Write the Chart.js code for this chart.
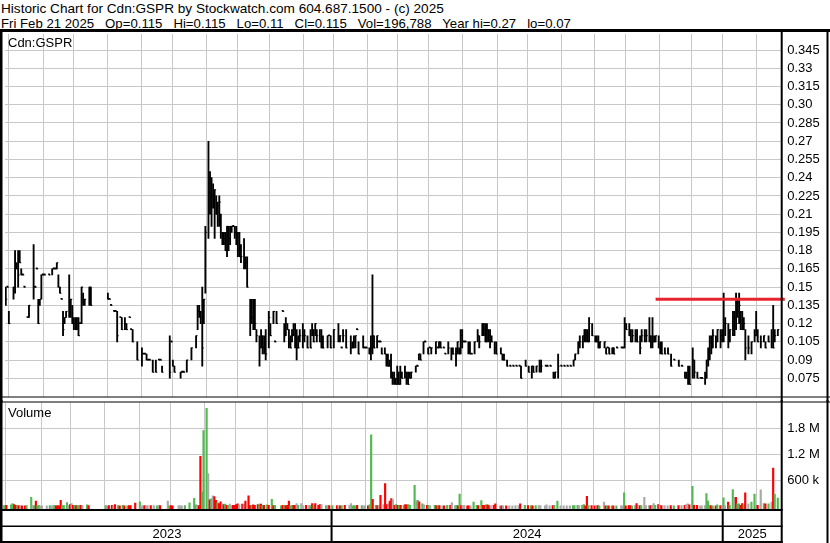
<!DOCTYPE html>
<html>
<head>
<meta charset="utf-8">
<script src="https://cdn.jsdelivr.net/npm/chart.js@4.4.1/dist/chart.umd.min.js"></script>
<style>
  html, body { margin: 0; padding: 0; background: #fff; }
  #wrap { position: relative; width: 830px; height: 543px; overflow: hidden;
          font-family: "Liberation Sans", Arial, sans-serif; font-size: 13px; color: #000; }
  .txt { position: absolute; white-space: pre; line-height: 13px; }
  canvas { position: absolute; left: 0; }
</style>
</head>
<body>
<div id="wrap">
  <div class="txt" style="left:1px;top:2px;font-size:13.6px">Historic Chart for Cdn:GSPR by Stockwatch.com 604.687.1500 - (c) 2025</div>
  <div class="txt" style="left:1px;top:17px;font-size:13.2px">Fri Feb 21 2025   Op=0.115   Hi=0.115   Lo=0.11   Cl=0.115   Vol=196,788   Year hi=0.27   lo=0.07</div>
  <canvas id="price" width="830" height="373" style="top:29px"></canvas>
  <canvas id="volume" width="830" height="143" style="top:400px"></canvas>
  <div class="txt" style="left:8px;top:36px">Cdn:GSPR</div>
  <div class="txt" style="left:8px;top:406px">Volume</div>
</div>
<script>
const _ = null;

// trading days in each month shown, Feb 27 2023 .. Feb 21 2025
const monthDays  = [2, 23, 19, 22, 22, 20, 22, 20, 21, 22, 19,
                    22, 20, 20, 22, 22, 20, 22, 21, 20, 22, 21, 20,
                    22, 14];
const monthYears = [2023, 2023, 2023, 2023, 2023, 2023, 2023, 2023, 2023, 2023, 2023,
                    2024, 2024, 2024, 2024, 2024, 2024, 2024, 2024, 2024, 2024, 2024, 2024,
                    2025, 2025];
const years = [2023, 2024, 2025];

// price ticks in cents, volume ticks in thousands
const priceTicks = [7.5, 9, 10.5, 12, 13.5, 15, 16.5, 18, 19.5, 21, 22.5, 24, 25.5, 27, 28.5, 30, 31.5, 33, 34.5];
const volumeTicks = [600, 1200, 1800];

// resistance line drawn on the chart (cents), from bar index
const resistance = { level: 14, fromBar: 420, toBar: 503.5 };

// daily high / low / close in cents, one entry per trading day (null = no trades)
const hi = [
  15, 15, 13, _, _, 15, 18, 17, 18, 18,
  16.5, 16, 15, _, 12.5, 13.5, _, _, 18.5, 15,
  16.5, 14, 14, 16, 16, 16, _, _, 16, _,
  16.5, 16.5, 16.5, 17, 16, 15, 14, 13, 12.5, 13,
  _, 16, 14, 13.5, 12.5, 12.5, 12.5, 12.5, 12, 15,
  14.5, 14, _, _, 15, 15, _, _, _, _,
  _, _, _, _, _, _, 14.5, 14, 13.5, _,
  13, 13, 13, _, 12.5, 12.5, _, 12.5, 12, _,
  12.5, 11.5, 11.5, _, _, 10.5, _, _, 10, 9.5,
  9.5, 9.5, 9, 9, _, 9, _, 9, _, 9,
  9, 8.5, _, _, _, _, 11, 10.5, 9, 8.5,
  _, _, _, 8, 8, 8, _, 9, _, _,
  10, _, _, 11, 13.5, 13.5, 13, 15, 14, 20,
  _, 27, 24.5, 24, 23.5, 23, 22.5, 22, 22.5, 21,
  19.5, 19.5, 19.5, 20, 20, 20, 20, 20, 20, 20,
  19.5, 19.5, 18.5, _, 19, 17.5, 17.5, _, 14, 14,
  14, 14, 11.5, _, 11, 11.5, 11, 11, 11.5, _,
  13, 12, _, 13, 10.5, 13, _, _, _, 13,
  12, 12.5, 12, 11.5, 11, 11.5, 12, 12, 11.5, 11,
  11.5, _, 12, 11.5, _, 11, _, 11.5, 12, 11.5,
  12, 11.5, _, 11.5, 11.5, 11, _, _, 11, 11,
  11, _, 11.5, _, _, 12, 11, 10, 11.5, _,
  11.5, _, _, 11, 10.5, 11, 11, 11.5, 10.5, _,
  _, 11, 10, 10, _, 10, 11, 16, 11, _,
  11, 10.5, 10.5, 10, _, 10, 9.5, 9.5, 9, 9.5,
  8, 8, 7.5, 8.5, 8, 8.5, 8, _, 8.5, 8,
  8, 8, 8, _, _, 8.5, 8.5, 9.5, 9.5, _,
  10.5, 10.5, _, 10, 10, 10, _, _, 10.5, 10,
  10.5, 10.5, _, 10, 9.5, _, 10.5, _, 10, 10,
  _, 10, 10.5, 10, 11.5, 11.5, 10.5, 10.5, _, 10.5,
  10.5, 9.5, _, 10.5, _, 11.5, 11, _, 12, 12,
  12, 12, 11.5, 11.5, 11, _, 10.5, 10.5, _, _,
  10, 9.5, 9.5, _, 9, _, 8.5, _, 8.5, _,
  8.5, _, 8.5, 8.5, _, _, 9, _, 8.5, _,
  8.5, 8.5, _, 8.5, _, 9, 9, _, _, 8.5,
  8.5, _, 8.5, _, 8, 8, _, 9.5, _, 8.5,
  _, 8.5, _, 8.5, _, 8.5, _, 9, 9.5, _,
  10.5, 11, _, 11, 11.5, 11.5, 11.5, 12.5, _, 12,
  _, 11, 11, 11, 10.5, _, _, 10.5, 10, 10,
  10, _, 10, 10, _, 10, _, _, 10, 10,
  12.5, 12, _, 12, 11.5, 11.5, _, 11.5, 11.5, _,
  11, 11.5, _, 11.5, 11.5, _, 12.5, 11, 12.5, 11,
  11, _, 11, 10.5, 10.5, _, 10, _, 10, _,
  9.5, _, 9, _, _, 9, _, 8.5, _, 8,
  8, 8.5, 8.5, _, 10, 9, _, 8, _, 7.5,
  7.5, _, 8, 9, 10, 11, 11, 11.5, _, 11,
  11.5, _, 11.5, 11.5, 14.5, 12.5, _, 12, 11.5, _,
  13, 13, 14.5, 14, 14.5, 13, 13, 12.5, 11.5, _,
  11, _, 10.5, _, 11.5, 13, 11.5, _, 11, _,
  11, 10.5, _, 11, _, 11.5, 13.5, 11.5, _, 11.5
];
const lo = [
  13.5, 15, 12, _, _, 14, 14.5, 16.5, 15, 17,
  16, 16, 15, _, 12.5, 12.5, _, _, 14, 15,
  16.5, 12, 13.5, 14, 16, 16, _, _, 16, _,
  16, 16.5, 16.5, 16.5, 15, 14.5, 14, 11, 12, 12.5,
  _, 12.5, 12.5, 12, 11.5, 11.5, 11.5, 11, 12, 12,
  13.5, 13.5, _, _, 13.5, 13.5, _, _, _, _,
  _, _, _, _, _, _, 14, 14, 13.5, _,
  13, 13, 10.5, _, 12.5, 11.5, _, 11.5, 11.5, _,
  12.5, 11.5, 10.5, _, _, 9, _, _, 8.5, 9.5,
  9.5, 9, 9, 9, _, 8, _, 8, _, 9,
  9, 8, _, _, _, _, 7.5, 10.5, 8.5, 8,
  _, _, _, 7.5, 8, 8, _, 8, _, _,
  9, _, _, 10, 11.5, 12.5, 12, 8.5, 12, 14.5,
  _, 19, 21, 20, 21.5, 19, 21, 20, 20, 19,
  18.5, 18.5, 18, 17.5, 18, 18.5, 19.5, 20, 19, 18.5,
  17.5, 17.5, 17, _, 16.5, 16.5, 15, _, 11, 12,
  11.5, 11.5, 10.5, _, 8.5, 10, 9.5, 9.5, 9, _,
  10, 11, _, 12, 10.5, 12, _, _, _, 13,
  10.5, 11, 11.5, 10, 10, 10.5, 11, 10, 9, 10,
  10.5, _, 10, 10.5, _, 10, _, 10, 11, 10.5,
  11, 10.5, _, 10.5, 10, 10, _, _, 10, 11,
  10, _, 10, _, _, 10.5, 10.5, 10, 10.5, _,
  10, _, _, 9.5, 10, 10, 10, 11.5, 9.5, _,
  _, 10, 10, 10, _, 9.5, 9, 9.5, 10, _,
  10, 10.5, 10.5, 9.5, _, 9.5, 8.5, 8.5, 8.5, 7.5,
  7, 7, 7, 7, 7, 7, 7.5, _, 7.5, 7,
  7, 7.5, 7.5, _, _, 8, 8.5, 9, 9, _,
  9.5, 10.5, _, 9.5, 10, 9.5, _, _, 9.5, 10,
  10, 10, _, 10, 9.5, _, 9.5, _, 9, 9.5,
  _, 8.5, 9.5, 9.5, 9.5, 10, 10.5, 10.5, _, 9.5,
  9.5, 9.5, _, 9.5, _, 10.5, 10, _, 11, 11,
  10.5, 10.5, 10.5, 10, 10.5, _, 9.5, 9.5, _, _,
  9.5, 9, 9, _, 8.5, _, 8.5, _, 8.5, _,
  8.5, _, 8.5, 7.5, _, _, 8.5, _, 8, _,
  7.5, 8, _, 8, _, 8, 8, _, _, 8.5,
  8.5, _, 8.5, _, 7.5, 7.5, _, 7.5, _, 8.5,
  _, 8.5, _, 8.5, _, 8.5, _, 8.5, 9, _,
  9.5, 10, _, 10, 10.5, 10.5, 10.5, 10.5, _, 11,
  _, 10.5, 10.5, 10, 10, _, _, 10, 9.5, 10,
  9.5, _, 9.5, 9.5, _, 10, _, _, 10, 10,
  10, 11.5, _, 11, 10.5, 10.5, _, 10.5, 10.5, _,
  9.5, 10.5, _, 10.5, 10.5, _, 10.5, 10, 10, 10.5,
  10.5, _, 10, 9.5, 9.5, _, 9.5, _, 9.5, _,
  8.5, _, 9, _, _, 8.5, _, 8.5, _, 7.5,
  7.5, 7, 7, _, 7.5, 7.5, _, 7.5, _, 7.5,
  7.5, _, 7, 7.5, 8.5, 9, 9.5, 10, _, 10,
  10.5, _, 10, 10.5, 10.5, 11, _, 10, 10.5, _,
  11, 11, 11.5, 12.5, 12, 11.5, 11.5, 11.5, 9, _,
  9.5, _, 9.5, _, 10.5, 11, 10.5, _, 10, _,
  10.5, 10, _, 10.5, _, 10, 10, 10.5, _, 11
];
const cl = [
  14, 15, 12, _, _, 15, 17, 16.5, 16, 17,
  16, 16, 15, _, 12.5, 13.5, _, _, 15, 15,
  16.5, 12, 14, 16, 16, 16, _, _, 16, _,
  16.5, 16.5, 16.5, 17, 15, 14.5, 14, 11.5, 12.5, 13,
  _, 14, 14, 12, 12, 11.5, 12, 11, 12, 15,
  14, 14, _, _, 15, 13.5, _, _, _, _,
  _, _, _, _, _, _, 14, 14, 13.5, _,
  13, 13, 11, _, 12.5, 11.5, _, 12, 11.5, _,
  12.5, 11.5, 10.5, _, _, 9, _, _, 9.5, 9.5,
  9.5, 9, 9, 9, _, 8, _, 8, _, 9,
  9, 8, _, _, _, _, 8, 10.5, 8.5, 8,
  _, _, _, 8, 8, 8, _, 9, _, _,
  10, _, _, 11, 13, 13, 12.5, 10, 14, 19.5,
  _, 24, 24, 22.5, 23, 23, 21, 20.5, 22, 19.5,
  19, 19, 18, 20, 19, 20, 20, 20, 19.5, 19,
  18, 17.5, 17.5, _, 17, 17, 15, _, 13, 12.5,
  13.5, 12, 11, _, 10, 11, 10, 10.5, 9.5, _,
  12.5, 11, _, 13, 10.5, 12, _, _, _, 13,
  11, 12, 11.5, 10.5, 10, 11, 11.5, 10.5, 10, 10,
  11, _, 11, 11, _, 10, _, 10, 11.5, 10.5,
  12, 11, _, 10.5, 10, 10, _, _, 11, 11,
  10, _, 11.5, _, _, 11, 11, 10, 11, _,
  10, _, _, 10, 10, 10.5, 11, 11.5, 9.5, _,
  _, 10, 10, 10, _, 9.5, 10, 11, 10, _,
  11, 10.5, 10.5, 9.5, _, 9.5, 9, 8.5, 8.5, 8,
  7.5, 7.5, 7, 8, 7, 8, 7.5, _, 8, 7.5,
  7, 7.5, 8, _, _, 8.5, 8.5, 9.5, 9, _,
  10.5, 10.5, _, 9.5, 10, 10, _, _, 10.5, 10,
  10.5, 10, _, 10, 9.5, _, 10, _, 9.5, 9.5,
  _, 9.5, 10.5, 9.5, 11, 10.5, 10.5, 10.5, _, 10,
  9.5, 9.5, _, 10.5, _, 11, 10.5, _, 12, 11.5,
  10.5, 11.5, 11, 10.5, 10.5, _, 10, 9.5, _, _,
  9.5, 9, 9, _, 8.5, _, 8.5, _, 8.5, _,
  8.5, _, 8.5, 7.5, _, _, 8.5, _, 8, _,
  8.5, 8, _, 8.5, _, 8.5, 8.5, _, _, 8.5,
  8.5, _, 8.5, _, 7.5, 8, _, 8.5, _, 8.5,
  _, 8.5, _, 8.5, _, 8.5, _, 9, 9.5, _,
  10.5, 10.5, _, 11, 11.5, 11, 10.5, 12, _, 11,
  _, 10.5, 10.5, 10, 10.5, _, _, 10.5, 9.5, 10,
  9.5, _, 10, 9.5, _, 10, _, _, 10, 10,
  12, 11.5, _, 11, 10.5, 11, _, 11, 10.5, _,
  10, 11, _, 11, 11, _, 11, 10.5, 10.5, 10.5,
  11, _, 10, 10, 9.5, _, 9.5, _, 9.5, _,
  8.5, _, 9, _, _, 8.5, _, 8.5, _, 7.5,
  7.5, 7.5, 7, _, 9, 8, _, 7.5, _, 7.5,
  7.5, _, 7.5, 9, 9.5, 10.5, 10, 11, _, 10.5,
  11.5, _, 11, 11, 12, 12, _, 10.5, 11.5, _,
  12.5, 12.5, 12, 13, 13.5, 12, 11.5, 12, 10, _,
  10, _, 10.5, _, 11, 11, 10.5, _, 10.5, _,
  11, 10, _, 10.5, _, 10.5, 10, 11, _, 11.5
];
// daily volume in thousands of shares
const vol = [
  30, 20, 30, _, _, 40, 70, 46, 30, 20,
  20, 15, 15, _, 15, 20, _, _, 215, 20,
  20, 123, 20, 30, 15, 15, _, _, 15, _,
  20, 15, 15, 30, 15, 20, 15, 146, 30, 20,
  _, 92, 30, 46, 70, 30, 30, 20, 20, 30,
  30, 20, _, _, 40, 20, _, _, _, _,
  _, _, _, _, _, _, 20, 15, 20, _,
  30, 20, 46, _, 20, 15, _, 30, 15, _,
  15, 20, 20, _, _, 80, _, _, 108, 15,
  15, 20, 15, 20, _, 20, _, 20, _, 15,
  20, 20, _, _, _, _, 123, 15, 20, 15,
  _, _, _, 20, 15, 15, _, 20, _, _,
  85, _, _, 192, 40, 30, 20, 1160, 337, 1760,
  _, 2270, 760, 154, 177, 246, 231, 146, 92, 70,
  108, 62, 46, 54, 30, 30, 54, 20, 30, 30,
  46, 62, 30, _, 54, 54, 123, _, 246, 30,
  30, 40, 30, _, 46, 54, 54, 30, 30, _,
  40, 30, _, 169, 20, 30, _, _, _, 15,
  30, 30, 20, 30, 123, 20, 20, 30, 30, 70,
  30, _, 70, 20, _, 30, _, 20, 20, 70,
  30, 70, _, 30, 46, 46, _, _, 20, 20,
  20, _, 20, _, _, 20, 20, 15, 20, _,
  30, _, _, 30, 70, 15, 20, 15, 30, _,
  _, 20, 15, 15, _, 15, 40, 1660, 169, _,
  30, 20, 20, 261, _, 46, 530, 46, 62, 123,
  185, 162, 30, 46, 30, 30, 30, _, 30, 46,
  40, 46, 30, _, _, 492, 131, 146, 108, _,
  62, 40, _, 30, 30, 20, _, _, 30, 20,
  20, 20, _, 15, 15, _, 30, _, 30, 92,
  _, 20, 30, 15, 285, 20, 15, 30, _, 15,
  15, 15, _, 100, _, 30, 20, _, 138, 30,
  30, 40, 40, 20, 20, _, 30, 62, _, _,
  15, 15, 15, _, 15, _, 15, _, 15, _,
  20, _, 20, 62, _, _, 30, _, 20, _,
  20, 15, _, 20, _, 20, 20, _, _, 15,
  40, _, 15, _, 20, 30, _, 123, _, 15,
  _, 15, _, 15, _, 15, _, 20, 20, _,
  30, 20, _, 30, 46, 15, 238, 20, _, 20,
  _, 15, 15, 20, 15, _, _, 100, 15, 15,
  15, _, 15, 15, _, 15, _, _, 15, 15,
  315, 15, _, 20, 20, 15, _, 20, 70, _,
  20, 20, _, 215, 20, _, 20, 20, 30, 70,
  30, _, 46, 30, 20, _, 20, _, 15, _,
  20, _, 15, _, _, 20, _, 20, _, 30,
  46, 62, 40, _, 469, 30, _, 30, _, 15,
  15, _, 20, 300, 123, 30, 15, 15, _, 15,
  40, _, 20, 20, 200, 20, _, 100, 30, _,
  392, 215, 215, 62, 62, 30, 70, 40, 315, _,
  62, _, 100, _, 285, 20, 30, _, 385, _,
  70, 62, _, 62, _, 100, 890, 285, _, 197
];

Chart.defaults.font.family = '"Liberation Sans", Arial, sans-serif';
Chart.defaults.font.size = 13;
Chart.defaults.color = '#000';

const gridColor = '#c8c8c8';
const upColor = '#52b952';
const downColor = '#ff0000';
const flatColor = '#aaaaaa';

// month boundaries (bar index), first entry is the left edge
const monthStart = [];
let acc = 0;
monthDays.forEach(d => { monthStart.push(acc); acc += d; });
const totalDays = acc;
const xMin = -0.5;
const xMax = totalDays + 1.5;

const monthTicks = monthStart.slice(1).map(k => k - 0.5);

// price series
const rangeBars = [];
const closeTicks = [];
for (let i = 0; i < hi.length; i++) {
  if (hi[i] != null) rangeBars.push({ x: i, y: [lo[i], hi[i]] });
  if (cl[i] != null) closeTicks.push({ x: i, y: cl[i] });
}

// volume series, coloured by close vs previous close
const volBars = [];
const volColors = [];
let prevClose = null;
for (let i = 0; i < vol.length; i++) {
  const c = cl[i];
  if (vol[i] != null) {
    let col = flatColor;
    if (prevClose != null && c != null) col = c > prevClose ? upColor : (c < prevClose ? downColor : flatColor);
    volBars.push({ x: i, y: vol[i] });
    volColors.push(col);
  }
  if (c != null) prevClose = c;
}

function fmtPrice(v) {
  let s = (v / 100).toFixed(3);
  if (s.endsWith('0')) s = s.slice(0, -1);
  return s;
}
function fmtVolume(v) {
  return v >= 1000 ? (v / 1000).toFixed(1) + ' M' : v + ' k';
}

const xScale = {
  type: 'linear',
  min: xMin,
  max: xMax,
  offset: false,
  grid: { color: gridColor, lineWidth: 1, drawTicks: false, offset: false },
  border: { display: false },
  ticks: { display: false, autoSkip: false },
  afterBuildTicks: s => { s.ticks = monthTicks.map(v => ({ value: v })); },
  afterFit: s => { s.height = 0; }
};

// right-hand axis: fixed width, no extra label padding above/below the plot
function rightAxis(min, max, ticks, fmt) {
  return {
    position: 'right',
    min: min,
    max: max,
    grid: { color: gridColor, lineWidth: 1, drawTicks: false },
    border: { display: false },
    ticks: { autoSkip: false, padding: 5.5, callback: v => fmt(v) },
    afterBuildTicks: s => { s.ticks = ticks.map(v => ({ value: v })); },
    afterFit: s => { s.width = 48.3; s.paddingTop = 0; s.paddingBottom = 0; }
  };
}

const priceFrame = {
  id: 'priceFrame',
  afterDraw(chart) {
    const { ctx, chartArea: a, width, height } = chart;
    ctx.save();
    ctx.fillStyle = '#000';
    ctx.fillRect(0, 0, width, 3);
    ctx.fillRect(0, 0, 2.5, height);
    ctx.fillRect(a.right - 1, 0, 2, height);
    ctx.fillRect(width - 3.5, 0, 2, height);
    ctx.fillRect(0, a.bottom - 0.5, width, 1);
    ctx.restore();
  }
};

const volumeFrame = {
  id: 'volumeFrame',
  afterDraw(chart) {
    const { ctx, chartArea: a, width, height } = chart;
    const x = chart.scales.x;
    ctx.save();
    ctx.fillStyle = '#000';
    ctx.fillRect(0, a.top - 1, width, 1);
    ctx.fillRect(0, 0, 2.5, height);
    ctx.fillRect(a.right - 1, 0, 2, height);
    ctx.fillRect(width - 3.5, 0, 2, height);
    const row = a.bottom - 0.5;
    ctx.fillRect(0, row, a.right + 1, 2);
    ctx.fillRect(0, row + 16.5, a.right + 1, 1.5);
    ctx.fillRect(0, height - 2, a.right + 1, 2);

    // year strip
    const bounds = years.map(y => {
      const m = monthYears.indexOf(y);
      return m === 0 ? a.left : x.getPixelForValue(monthStart[m] - 0.5);
    });
    bounds.push(a.right);
    ctx.font = '13px "Liberation Sans", Arial, sans-serif';
    ctx.textAlign = 'center';
    ctx.textBaseline = 'middle';
    years.forEach((y, k) => {
      if (k > 0) ctx.fillRect(bounds[k] - 1, row, 2, height - row);
      ctx.fillText(String(y), (bounds[k] + bounds[k + 1]) / 2, row + 25.5);
    });
    ctx.restore();
  }
};

new Chart(document.getElementById('price'), {
  type: 'bar',
  data: {
    datasets: [
      {
        type: 'line',
        data: [{ x: resistance.fromBar, y: resistance.level }, { x: resistance.toBar, y: resistance.level }],
        borderColor: '#e8232d',
        borderWidth: 3,
        pointRadius: 0,
        clip: { left: 0, top: 0, right: 6, bottom: 0 },
        order: 0
      },
      {
        type: 'line',
        data: closeTicks,
        showLine: false,
        pointStyle: 'dash',
        pointRadius: 1.5,
        pointBorderWidth: 1,
        pointBorderColor: '#000',
        pointBackgroundColor: '#000',
        order: 1
      },
      {
        type: 'bar',
        data: rangeBars,
        backgroundColor: '#000',
        barThickness: 1.2,
        minBarLength: 1,
        order: 2
      }
    ]
  },
  options: {
    responsive: false,
    animation: false,
    events: [],
    layout: { padding: { left: 2.5, top: 3, right: 0, bottom: 2 } },
    plugins: { legend: { display: false }, tooltip: { enabled: false } },
    scales: {
      x: xScale,
      y: rightAxis(5.96, 35.82, priceTicks, fmtPrice)
    }
  },
  plugins: [priceFrame]
});

new Chart(document.getElementById('volume'), {
  type: 'bar',
  data: {
    datasets: [{
      data: volBars,
      backgroundColor: volColors,
      barThickness: 1.5,
      base: -69
    }]
  },
  options: {
    responsive: false,
    animation: false,
    events: [],
    layout: { padding: { left: 2.5, top: 2.5, right: 0, bottom: 33.5 } },
    plugins: { legend: { display: false }, tooltip: { enabled: false } },
    scales: {
      x: xScale,
      y: rightAxis(-69, 2407, volumeTicks, fmtVolume)
    }
  },
  plugins: [volumeFrame]
});
</script>
</body>
</html>
